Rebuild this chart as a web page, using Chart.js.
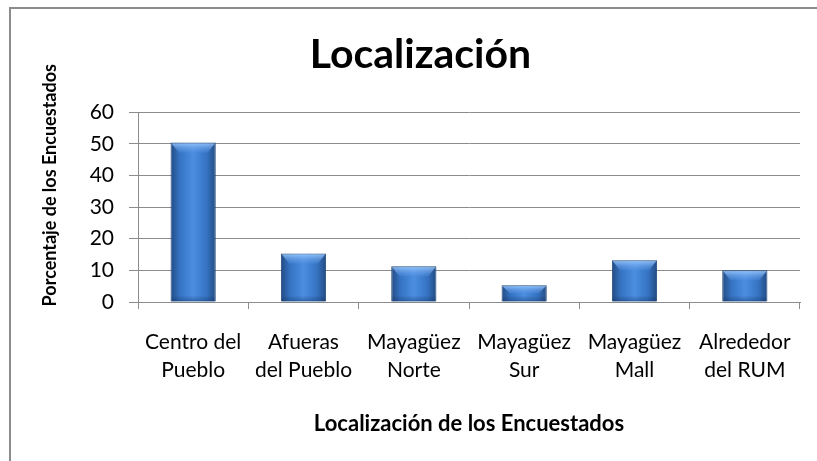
<!DOCTYPE html>
<html>
<head>
<meta charset="utf-8">
<script src="https://cdn.jsdelivr.net/npm/chart.js@4/dist/chart.umd.min.js"></script>
<style>
  html, body { margin: 0; padding: 0; background: #fff; }
  #wrap { position: relative; width: 817px; height: 461px; overflow: hidden; }
  #frame { position: absolute; left: 9px; top: 7px; width: 830px; height: 480px; border: 2px solid #8c8c8c; box-sizing: border-box; }
  canvas { position: absolute; left: 0; top: 0; }
</style>
</head>
<body>
<div id="wrap">
  <div id="frame"></div>
  <canvas id="chart" width="817" height="461"></canvas>
</div>
<script>
// Data
const categories = [
    ['Centro del', 'Pueblo'],
    ['Afueras', 'del Pueblo'],
    ['Mayagüez', 'Norte'],
    ['Mayagüez', 'Sur'],
    ['Mayagüez', 'Mall'],
    ['Alrededor', 'del RUM']
];
const percentages = [50.4, 15.3, 11.3, 5.3, 13.2, 10.0];
const yTicks = [0, 10, 20, 30, 40, 50, 60];

const gridColor = '#8c8c8c';
const barPct = 0.41;

// Horizontal gradient for each bar, placed with the x scale
function barFill(context) {
    const chart = context.chart;
    const xs = chart.scales.x;
    if (!xs || context.dataIndex === undefined) return '#3a78c8';
    const cx = xs.getPixelForValue(context.dataIndex);
    const half = xs.width / categories.length * barPct / 2;
    if (!isFinite(cx) || !isFinite(half) || half <= 0) return '#3a78c8';
    const g = chart.ctx.createLinearGradient(cx - half, 0, cx + half, 0);
    g.addColorStop(0, '#234b82');
    g.addColorStop(0.2, '#3573c2');
    g.addColorStop(0.5, '#4b8ee0');
    g.addColorStop(0.8, '#3573c2');
    g.addColorStop(1, '#234b82');
    return g;
}

// Small bevel highlight on top of each bar
const bevel = {
    id: 'bevel',
    afterDatasetsDraw(chart) {
        const c = chart.ctx;
        chart.getDatasetMeta(0).data.forEach(bar => {
            const left = bar.x - bar.width / 2;
            const right = bar.x + bar.width / 2;
            const h = Math.min(10, (bar.base - bar.y) / 2);
            c.save();
            const g = c.createLinearGradient(0, bar.y, 0, bar.y + h);
            g.addColorStop(0, 'rgba(160,205,255,0.9)');
            g.addColorStop(1, 'rgba(90,150,230,0.25)');
            c.fillStyle = g;
            c.beginPath();
            c.moveTo(left + 1, bar.y + 1);
            c.lineTo(right - 1, bar.y + 1);
            c.lineTo(right - 8, bar.y + h);
            c.lineTo(left + 8, bar.y + h);
            c.closePath();
            c.fill();
            // darker shade at the bottom
            const b = c.createLinearGradient(0, bar.base - 6, 0, bar.base);
            b.addColorStop(0, 'rgba(20,50,100,0)');
            b.addColorStop(1, 'rgba(20,50,100,0.45)');
            c.fillStyle = b;
            c.fillRect(left + 1, bar.base - 6, bar.width - 2, 6);
            c.restore();
        });
    }
};

new Chart(document.getElementById('chart'), {
    type: 'bar',
    data: {
        labels: categories,
        datasets: [{
            data: percentages,
            backgroundColor: barFill,
            borderColor: '#254a7c',
            borderWidth: 1,
            categoryPercentage: 1,
            barPercentage: barPct
        }]
    },
    options: {
        responsive: false,
        animation: false,
        layout: { padding: { left: 11, top: 10, right: 17, bottom: 24 } },
        plugins: {
            legend: { display: false },
            tooltip: { enabled: false },
            title: {
                display: true,
                // leading spaces nudge the title right, as in the original
                text: '   Localización',
                color: '#000',
                font: { family: 'Lato', size: 41, weight: 'bold', lineHeight: 1.2 },
                padding: { top: 20, bottom: 33 }
            }
        },
        scales: {
            x: {
                grid: { drawOnChartArea: false, drawTicks: true, tickLength: 7, color: gridColor, offset: true },
                border: { display: true, color: gridColor },
                ticks: {
                    color: '#000',
                    font: { family: 'Lato', size: 21, lineHeight: 1.35 },
                    maxRotation: 0,
                    padding: 19
                },
                title: {
                    display: true,
                    text: 'Localización de los Encuestados',
                    color: '#000',
                    font: { family: 'Lato', size: 22, weight: 'bold', lineHeight: 1.2 },
                    padding: { top: 0, bottom: 0 }
                },
                afterFit(scale) { scale.height = 135; }
            },
            y: {
                min: 0,
                max: 60,
                afterBuildTicks(scale) { scale.ticks = yTicks.map(v => ({ value: v })); },
                grid: { color: gridColor, tickLength: 9 },
                border: { display: true, color: gridColor },
                ticks: {
                    color: '#000',
                    font: { family: 'Lato', size: 21 },
                    padding: 15
                },
                title: {
                    display: true,
                    // leading spaces lift the label toward the vertical middle of the frame
                    text: '          Porcentaje de los Encuestados',
                    color: '#000',
                    font: { family: 'Lato', size: 18, weight: 'bold', lineHeight: 1.2 },
                    padding: { top: 28, bottom: 0 }
                },
                afterFit(scale) { scale.width = 127; }
            }
        }
    },
    plugins: [bevel]
});
</script>
</body>
</html>
